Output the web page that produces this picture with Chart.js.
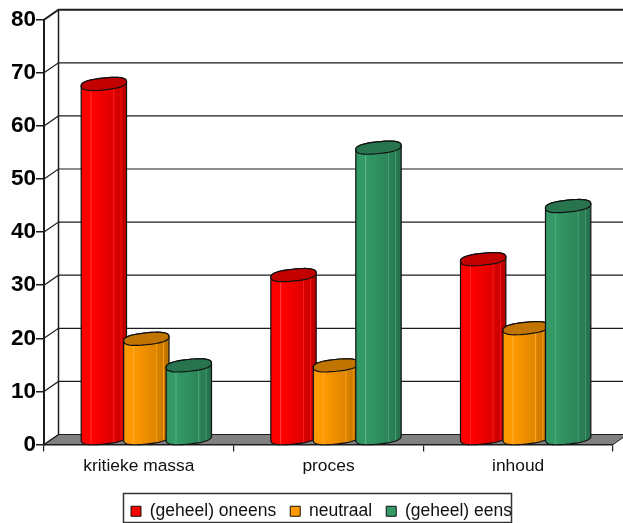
<!DOCTYPE html>
<html>
<head>
<meta charset="utf-8">
<style>
  html, body { margin: 0; padding: 0; background: #fff; overflow: hidden; }
</style>
<script src="https://cdn.jsdelivr.net/npm/chart.js@4/dist/chart.umd.min.js"></script>
</head>
<body>
<canvas id="chart" width="623" height="530"></canvas>
<script>
const categories = ['kritieke massa', 'proces', 'inhoud'];
const seriesNames = ['(geheel) oneens', 'neutraal', '(geheel) eens'];
const oneens = [67, 31, 34];
const neutraal = [19, 14, 21];
const eens = [14, 55, 44];
const seriesColors = ['#ff0000', '#ff9900', '#339966'];

// depth of the fake 3D box
const DEPTH_X = 14.5;
const DEPTH_Y = -10;
const LINE = '#1c1c1c';

function mix(hex, target, amount) {
  const n = parseInt(hex.slice(1), 16);
  const c = [n >> 16, (n >> 8) & 255, n & 255];
  return 'rgb(' + c.map(v => Math.round(v + (target - v) * amount)).join(',') + ')';
}

function traceCap(ctx, cx, cy, r, ry, tilt, a0, a1) {
  const steps = 40;
  const power = 2 / 2.5;
  for (let i = 0; i <= steps; i++) {
    const a = a0 + (a1 - a0) * i / steps;
    const px = r * Math.sign(Math.cos(a)) * Math.pow(Math.abs(Math.cos(a)), power);
    const py = ry * Math.sign(Math.sin(a)) * Math.pow(Math.abs(Math.sin(a)), power);
    ctx.lineTo(cx + px * Math.cos(tilt) - py * Math.sin(tilt), cy + px * Math.sin(tilt) + py * Math.cos(tilt));
  }
}

function drawCylinder(ctx, bar) {
  const color = bar.options.backgroundColor;
  const r = 22.8;
  const ry = 5.9;
  const tilt = -6 * Math.PI / 180;
  const cx = bar.x + 7.5;
  const top = bar.y - 4.8;
  const bottom = bar.base - 5.6;

  // body shading with the thin light streaks
  const g = ctx.createLinearGradient(cx - r, 0, cx + r, 0);
  const stops = [
    [0, mix(color, 0, 0.05)], [0.05, color], [0.2, color], [0.215, mix(color, 255, 0.22)], [0.24, color],
    [0.5, mix(color, 0, 0.07)], [0.7, mix(color, 0, 0.13)], [0.715, mix(color, 255, 0.12)], [0.74, mix(color, 0, 0.15)],
    [0.86, mix(color, 0, 0.2)], [0.875, mix(color, 255, 0.08)], [0.9, mix(color, 0, 0.22)], [1, mix(color, 0, 0.27)]
  ];
  stops.forEach(s => g.addColorStop(s[0], s[1]));

  ctx.save();
  ctx.lineWidth = 1.2;
  ctx.lineJoin = 'round';
  ctx.strokeStyle = '#111';
  ctx.fillStyle = g;
  ctx.beginPath();
  traceCap(ctx, cx, bottom, r, ry, tilt, 0, Math.PI);
  traceCap(ctx, cx, top, r, ry, tilt, Math.PI, Math.PI * 2);
  ctx.closePath();
  ctx.fill();
  ctx.stroke();

  ctx.fillStyle = mix(color, 0, 0.24);
  ctx.beginPath();
  traceCap(ctx, cx, top, r, ry, tilt, 0, Math.PI * 2);
  ctx.closePath();
  ctx.fill();
  ctx.stroke();
  ctx.restore();
}

const boxPlugin = {
  id: 'box3d',
  afterLayout(chart) {
    // legend sits a little right of the canvas centre
    chart.legend.left += 15;
    chart.legend.right += 15;
  },
  beforeDatasetsDraw(chart) {
    const { ctx, chartArea: a, scales: { y } } = chart;
    ctx.save();

    // floor
    ctx.fillStyle = '#808080';
    ctx.strokeStyle = LINE;
    ctx.lineWidth = 1;
    ctx.beginPath();
    ctx.moveTo(a.left, a.bottom);
    ctx.lineTo(a.left + DEPTH_X, a.bottom + DEPTH_Y);
    ctx.lineTo(a.right + DEPTH_X, a.bottom + DEPTH_Y);
    ctx.lineTo(a.right, a.bottom);
    ctx.closePath();
    ctx.fill();
    ctx.stroke();

    // side wall diagonals and back wall lines, one per y tick
    y.ticks.forEach(t => {
      const py = y.getPixelForValue(t.value);
      ctx.lineWidth = t.value === 80 ? 2 : 1.2;
      ctx.beginPath();
      ctx.moveTo(a.left, py);
      ctx.lineTo(a.left + DEPTH_X, py + DEPTH_Y);
      ctx.lineTo(a.right + DEPTH_X, py + DEPTH_Y);
      ctx.stroke();
    });

    ctx.lineWidth = 1.5;
    ctx.beginPath();
    ctx.moveTo(a.left + DEPTH_X, a.top + DEPTH_Y);
    ctx.lineTo(a.left + DEPTH_X, a.bottom + DEPTH_Y);
    ctx.stroke();
    ctx.restore();

    // series left to right so each cylinder overlaps the previous one
    chart.data.datasets.forEach((d, i) => {
      chart.getDatasetMeta(i).data.forEach(bar => drawCylinder(ctx, bar));
    });
    return false;
  },
  afterDraw(chart) {
    const { ctx, legend } = chart;
    ctx.save();
    ctx.strokeStyle = '#333';
    ctx.lineWidth = 1.5;
    ctx.strokeRect(123.5, legend.top + 5, 388, 29);
    ctx.restore();
  }
};

new Chart(document.getElementById('chart'), {
  type: 'bar',
  data: {
    labels: categories,
    datasets: [oneens, neutraal, eens].map((values, i) => ({
      label: seriesNames[i],
      data: values,
      backgroundColor: seriesColors[i],
      borderColor: '#111',
      borderWidth: 1
    }))
  },
  options: {
    responsive: false,
    animation: false,
    categoryPercentage: 0.672,
    barPercentage: 1,
    layout: { padding: { left: 0, right: 10, top: 19.7, bottom: 0 } },
    plugins: {
      tooltip: { enabled: false },
      legend: {
        position: 'bottom',
        labels: {
          boxWidth: 10,
          boxHeight: 10,
          padding: 14,
          color: '#111',
          font: { family: '"Liberation Sans", Arial, sans-serif', size: 17.5 }
        }
      }
    },
    scales: {
      x: {
        afterFit(scale) { scale.height = 44; },
        grid: { drawOnChartArea: false, tickLength: 7, color: LINE, lineWidth: 1.2 },
        border: { color: LINE, width: 1.5 },
        ticks: {
          color: '#111',
          padding: 4,
          maxRotation: 0,
          font: { family: '"Liberation Sans", Arial, sans-serif', size: 17.4 }
        }
      },
      y: {
        min: 0,
        max: 80,
        afterFit(scale) { scale.width = 44; },
        grid: { drawOnChartArea: false, tickLength: 8, color: LINE, lineWidth: 1.5 },
        border: { color: LINE, width: 2 },
        ticks: {
          stepSize: 10,
          color: '#000',
          padding: 0,
          font: { family: '"Liberation Sans", Arial, sans-serif', size: 22.5, weight: 'bold' }
        }
      }
    }
  },
  plugins: [boxPlugin]
});
</script>
</body>
</html>
